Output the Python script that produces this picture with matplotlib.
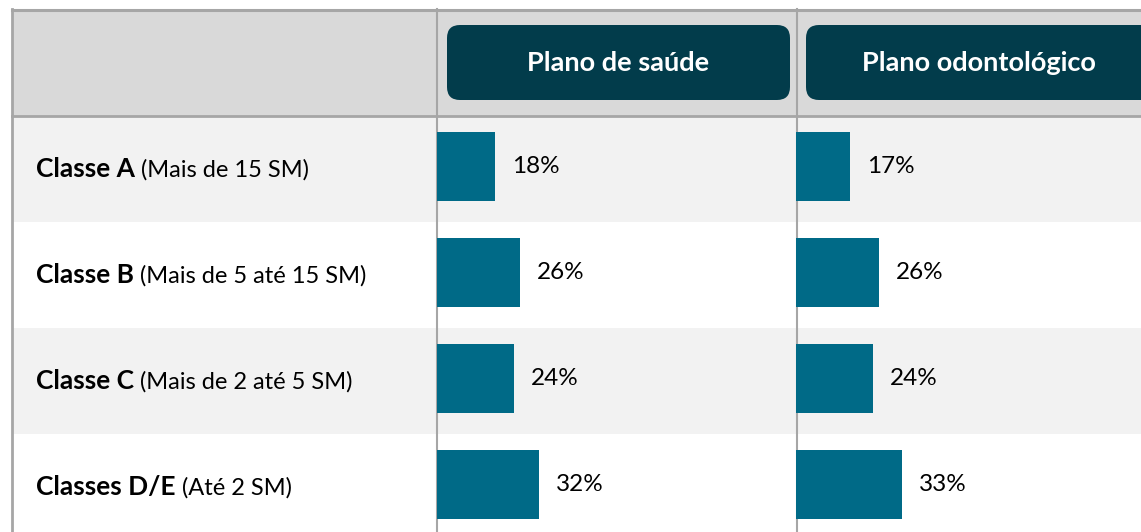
import matplotlib.pyplot as plt
from matplotlib.patches import Rectangle, FancyBboxPatch

# data
categorias = ['Classe A', 'Classe B', 'Classe C', 'Classes D/E']
faixas = ['(Mais de 15 SM)', '(Mais de 5 até 15 SM)', '(Mais de 2 até 5 SM)', '(Até 2 SM)']
colunas = ['Plano de saúde', 'Plano odontológico']
plano_saude = [18, 26, 24, 32]
plano_odonto = [17, 26, 24, 33]

W, H = 1141, 532
bar_color = '#006a87'
head_color = '#023c4b'
line_color = '#a6a6a6'
plt.rcParams['font.family'] = ['Lato', 'DejaVu Sans']

fig = plt.figure(figsize=(W / 100, H / 100), dpi=100)
bg = fig.add_axes([0, 0, 1, 1])
bg.set_xlim(0, W)
bg.set_ylim(H, 0)
bg.axis('off')

# fundo da tabela
bg.add_patch(Rectangle((12, 9), W - 12, 107, color='#d9d9d9', lw=0))
row_top, row_h = 116, 106
for i in range(len(categorias)):
    if i % 2 == 0:
        bg.add_patch(Rectangle((12, row_top + i * row_h), W - 12, row_h,
                               color='#f2f2f2', lw=0))
bg.plot([12, W], [9.5, 9.5], color=line_color, lw=2.2)
bg.plot([12, W], [116, 116], color=line_color, lw=2)
bg.plot([12, 12], [9, H], color=line_color, lw=2)
for x in (437, 797):
    bg.plot([x, x], [9, H], color=line_color, lw=1.5)

# cabecalho
for x0, x1, cx, txt in [(447, 790, 618, colunas[0]), (806, 1160, 979, colunas[1])]:
    bg.add_patch(FancyBboxPatch((x0, 25), x1 - x0, 75,
                                boxstyle='round,pad=0,rounding_size=13',
                                fc=head_color, ec='none'))
    bg.text(cx, 63, txt, color='white', fontsize=19.5, fontweight='bold',
            ha='center', va='center')

# rotulos das linhas
fig.canvas.draw()
r = fig.canvas.get_renderer()
for i, (c, f) in enumerate(zip(categorias, faixas)):
    y = 169 + i * row_h
    t = bg.text(36, y, c + ' ', fontsize=19, fontweight='bold', va='center')
    bb = t.get_window_extent(r)
    xd = bg.transData.inverted().transform((bb.x1, 0))[0]
    bg.text(xd, y + 0.5, f, fontsize=17, va='center')

# barras
px_per_pct = 3.2
for x0, width, vals in [(437, 360, plano_saude), (796, W - 796, plano_odonto)]:
    ax = fig.add_axes([x0 / W, 0, width / W, (H - row_top) / H])
    ax.set_facecolor('none')
    y = list(range(len(vals)))
    ax.barh(y, vals, height=0.65, color=bar_color)
    top = -(166.5 - row_top) / row_h
    ax.set_ylim(top + (H - row_top) / row_h, top)
    ax.set_xlim(0, width / px_per_pct)
    for yi, v in zip(y, vals):
        ax.text(v + 17 / px_per_pct, yi, f'{v}%', fontsize=17.5, va='center')
    ax.axis('off')

fig.savefig('out.png', dpi=100)
